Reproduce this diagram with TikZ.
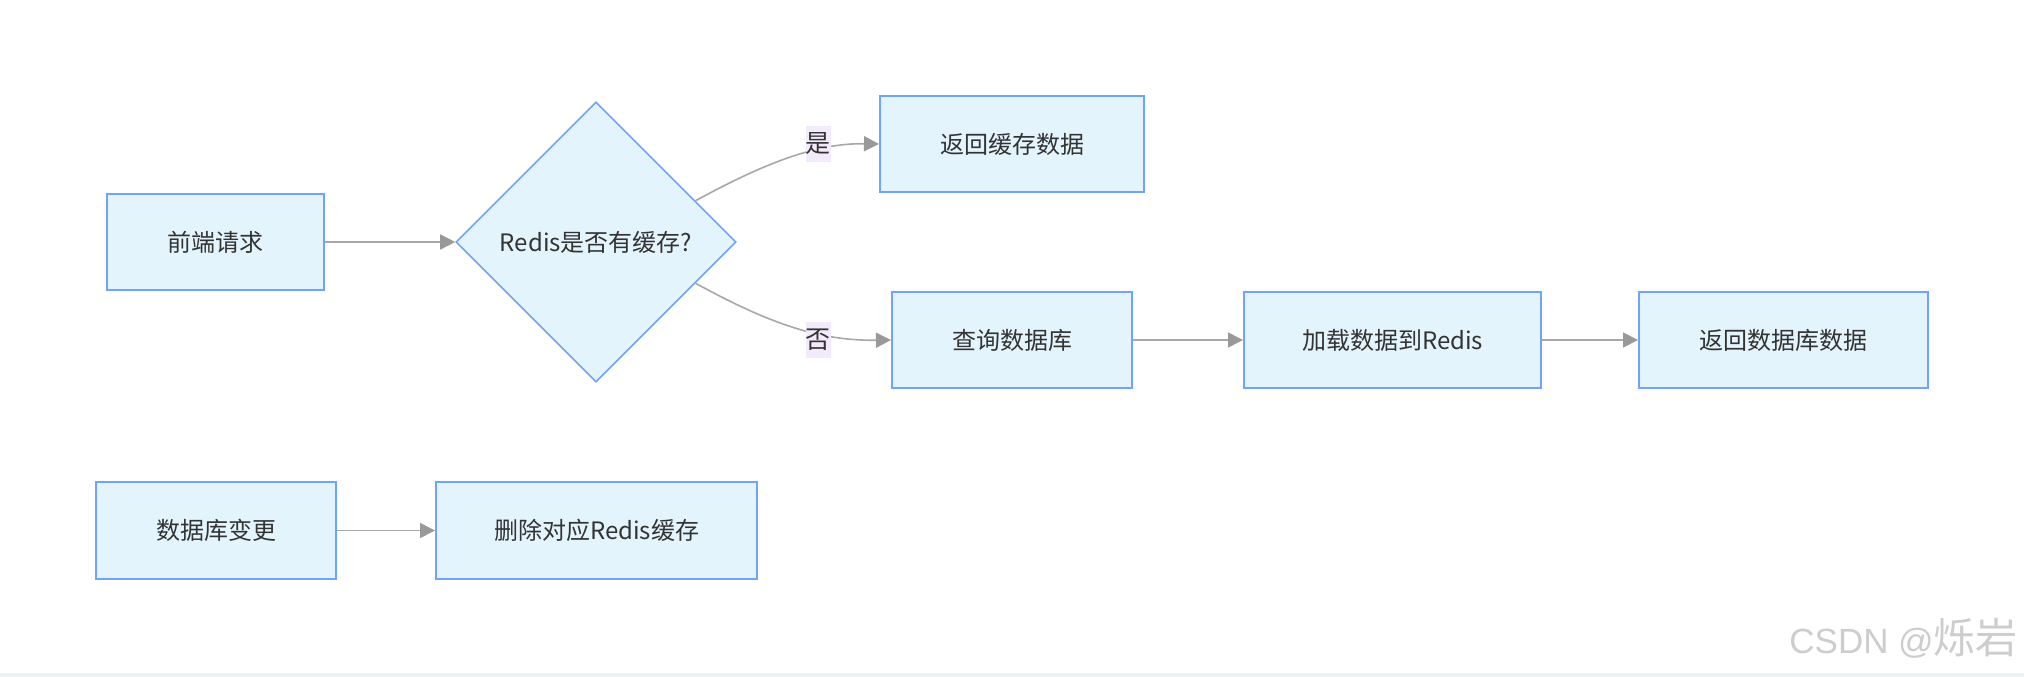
\documentclass[tikz,border=0pt]{standalone}
\usepackage{fontspec}
\setmainfont{Noto Sans CJK SC}
\newfontfamily\wmfont{Liberation Sans}
\usetikzlibrary{shapes.geometric,arrows.meta,calc}
\definecolor{boxfill}{RGB}{227,244,253}
\definecolor{boxline}{RGB}{112,164,250}
\definecolor{edgecol}{RGB}{168,168,168}
\definecolor{tipcol}{RGB}{153,153,153}
\definecolor{lblbg}{RGB}{243,235,252}
\definecolor{txt}{RGB}{51,51,51}
\definecolor{wm}{RGB}{205,205,205}
\definecolor{strip}{RGB}{238,241,246}
\begin{document}
\begin{tikzpicture}[x=1pt,y=-1pt,
  box/.style={rectangle, draw=boxline, line width=2pt, fill=boxfill, text=txt,
    font=\fontsize{24}{28}\selectfont, inner sep=0pt, minimum height=96pt},
  dec/.style={diamond, aspect=1, draw=boxline, line width=1.6pt, fill=boxfill, text=txt,
    font=\fontsize{24}{28}\selectfont, inner sep=0pt, minimum width=280pt, minimum height=280pt},
  flow/.style={draw=edgecol, line width=1.6pt,
    -{Triangle[length=15pt,width=15pt,fill=tipcol,color=tipcol]}},
  lbl/.style={fill=lblbg, text=txt, font=\fontsize{25}{28}\selectfont,
    inner sep=0pt, minimum width=24pt, minimum height=36pt}]
\useasboundingbox (0,0) rectangle (2024,677);
\fill[white] (0,0) rectangle (2024,677);
\fill[strip] (0,673) rectangle (2024,677);

\node[box, minimum width=217pt] (a) at (215.5,242) {前端请求};
\node[dec] (d) at (596,242) {Redis是否有缓存?};
\node[box, minimum width=264pt] (ys) at (1012,144) {返回缓存数据};
\node[box, minimum width=240pt] (q) at (1012,340) {查询数据库};
\node[box, minimum width=297pt] (ld) at (1392.5,340) {加载数据到Redis};
\node[box, minimum width=289pt] (rt) at (1783.5,340) {返回数据库数据};
\node[box, minimum width=240pt, minimum height=97pt] (c) at (216,530.5) {数据库变更};
\node[box, minimum width=321pt, minimum height=97pt] (dl) at (596.5,530.5) {删除对应Redis缓存};

\coordinate (yst) at ($(d.north)!0.707!(d.east)$);
\coordinate (nst) at ($(d.south)!0.707!(d.east)$);

\draw[flow] (a) -- (d);
\draw[flow] (yst) .. controls (770,160) and (820,143) .. (ys.west);
\draw[flow] (nst) .. controls (770,324) and (820,341) .. (q.west);
\draw[flow] (q) -- (ld);
\draw[flow] (ld) -- (rt);
\draw[flow] (c) -- (dl);

\node[lbl] (ly) at (818,144) {是};
\node[lbl] (ln) at (818,340) {否};

\node[anchor=base east, text=wm, inner sep=0pt] (w) at (2018,653)
  {{\wmfont\fontsize{35}{40}\selectfont CSDN @}{\fontsize{42}{44}\selectfont 烁岩}};
\end{tikzpicture}
\end{document}
